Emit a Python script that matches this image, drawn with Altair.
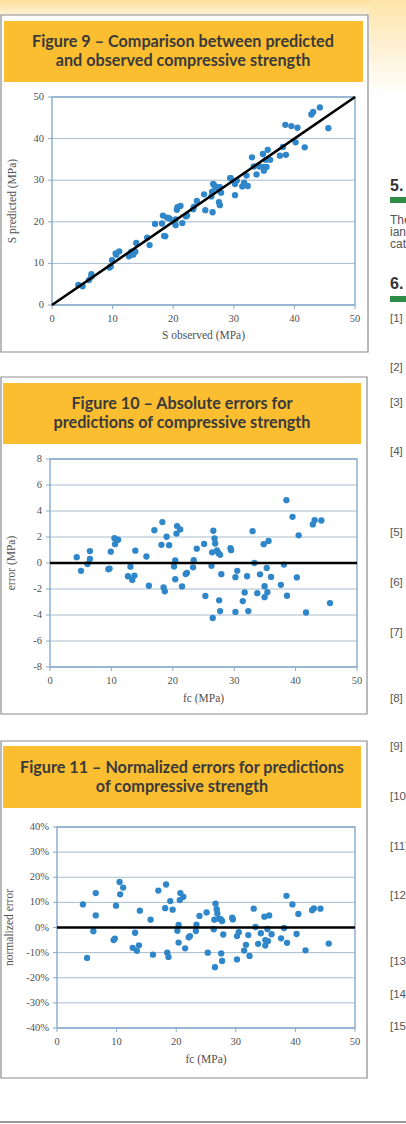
import altair as alt
import pandas as pd

# Specimen data: observed strength, model prediction, absolute and normalized error
s_observed = [4.35, 5.05, 6.1, 6.5, 6.5, 9.5, 9.7, 9.9, 10.5, 10.6,
              11.1, 12.7, 13.1, 13.4, 13.75, 13.9, 15.7, 16.1, 17.0, 18.3,
              18.15, 18.5, 18.7, 19.0, 19.4, 20.2, 20.4, 20.4, 20.6, 20.7,
              21.2, 21.5, 22.1, 22.3, 23.3, 23.4, 23.9, 25.1, 25.3, 26.4,
              26.3, 26.5, 26.6, 26.8, 26.9, 27.2, 27.45, 27.55, 27.7, 27.9,
              27.7, 29.4, 29.5, 30.2, 30.2, 30.5, 31.4, 31.7, 32.1, 32.3,
              33.0, 33.3, 33.75, 34.2, 34.8, 34.95, 34.95, 35.3, 35.4, 35.6,
              36.0, 37.6, 38.1, 38.5, 38.6, 39.5, 40.2, 40.5, 41.7, 42.8,
              43.1, 44.2, 45.6]
s_predicted = [4.8, 4.5, 6.0, 7.4, 6.8, 9.0, 9.3, 10.8, 12.4, 12.1,
               12.9, 11.7, 12.8, 12.1, 12.8, 14.9, 16.2, 14.4, 19.5, 21.5,
               19.6, 16.6, 16.5, 21.0, 20.8, 19.9, 20.6, 19.2, 22.9, 23.5,
               23.8, 19.7, 21.3, 21.5, 23.0, 23.6, 25.0, 26.6, 22.8, 27.2,
               26.1, 22.3, 29.1, 28.7, 28.4, 28.2, 28.2, 24.7, 24.0, 27.0,
               28.3, 30.5, 30.5, 29.1, 26.4, 29.9, 28.5, 29.4, 31.1, 28.6,
               35.5, 33.3, 31.4, 33.3, 36.3, 33.2, 32.3, 34.9, 33.2, 37.3,
               34.9, 35.9, 38.0, 43.3, 36.1, 43.0, 39.1, 42.6, 37.9, 45.8,
               46.4, 47.5, 42.5]
abs_error = [0.45, -0.60, -0.08, 0.92, 0.31, -0.48, -0.43, 0.87, 1.91, 1.45,
             1.79, -1.02, -0.28, -1.30, -0.97, 0.95, 0.50, -1.75, 2.52, 3.15,
             1.40, -1.88, -2.18, 2.02, 1.37, -0.27, 0.20, -1.25, 2.26, 2.84,
             2.58, -1.80, -0.85, -0.76, -0.33, 0.22, 1.10, 1.47, -2.54, 0.82,
             -0.22, -4.23, 2.48, 1.89, 1.50, 0.96, 0.75, -2.87, -3.70, -0.86,
             0.63, 1.14, 0.99, -1.09, -3.76, -0.60, -2.93, -2.26, -1.02, -3.70,
             2.45, 0.0, -2.32, -0.87, 1.45, -1.79, -2.63, -0.38, -2.25, 1.69,
             -1.07, -1.68, -0.12, 4.83, -2.52, 3.55, -1.11, 2.13, -3.81, 2.97,
             3.29, 3.27, -3.08]
norm_error_pct = [9.2, -12.1, -1.5, 13.7, 4.8, -5.0, -4.4, 8.7, 18.1, 13.2,
                  15.9, -8.1, -2.1, -9.3, -7.1, 6.7, 3.1, -10.8, 14.7, 17.1,
                  7.7, -10.0, -11.7, 10.5, 7.1, -1.3, 1.0, -6.0, 10.9, 13.7,
                  12.2, -8.3, -3.9, -3.4, -1.4, 1.1, 4.6, 6.0, -10.0, 3.1,
                  -0.7, -15.8, 9.5, 7.3, 5.6, 3.5, 3.3, -10.3, -13.3, -2.8,
                  2.6, 3.9, 3.2, -3.4, -12.7, -1.9, -9.2, -6.9, -3.0, -11.3,
                  7.5, 0.2, -6.5, -2.3, 4.3, -5.0, -7.2, -0.6, -5.4, 4.8,
                  -2.7, -4.3, -0.2, 12.6, -6.1, 9.2, -2.6, 5.4, -9.1, 6.9,
                  7.6, 7.5, -6.4]

# tick values of each panel
x_ticks = [0, 10, 20, 30, 40, 50]
y_ticks_fig9 = [0, 10, 20, 30, 40, 50]
y_ticks_fig10 = [-8, -6, -4, -2, 0, 2, 4, 6, 8]
y_ticks_fig11 = [-40, -30, -20, -10, 0, 10, 20, 30, 40]

fig_titles = [
    ["Figure 9 \u2013 Comparison between predicted", "and observed compressive strength"],
    ["Figure 10 \u2013 Absolute errors for", "predictions of compressive strength"],
    ["Figure 11 \u2013 Normalized errors for predictions", "of compressive strength"],
]
x_titles = ["S observed (MPa)", "fc (MPa)", "fc (MPa)"]
y_titles = ["S predicted (MPa)", "error (MPa)", "normalized error"]

side_headings = ["5.", "6."]
side_lines = ["The", "ian", "cat"]
side_refs = ["[1]", "[2]", "[3]", "[4]", "[5]", "[6]", "[7]", "[8]",
             "[9]", "[10]", "[11]", "[12]", "[13]", "[14]", "[15]"]

df = pd.DataFrame({
    "observed": s_observed,
    "predicted": s_predicted,
    "error": abs_error,
    "norm": norm_error_pct,
})

W, H = 406, 1124
SERIF = "Liberation Serif"
SANS = "Liberation Sans"
DOT = "#2f87c9"
FRAME = "#86abcc"
GRID = "#a7bccb"
AXIS_TXT = "#505050"
YELLOW = "#fbbe31"
BOX_LINE = "#8c8c8c"
GREEN = "#2f8c46"

one = alt.Data(values=[{"k": 0}])


def rect(x, x2, y, y2, **mark):
    return alt.Chart(one).mark_rect(**mark).encode(
        x=alt.value(x), x2=alt.value(x2), y=alt.value(y), y2=alt.value(y2))


def text(t, x, y, **mark):
    return alt.Chart(one).mark_text(text=t, **mark).encode(
        x=alt.value(x), y=alt.value(y))


def panel(ycol, yticks, suffix, xr, yr, xtitle, ytitle, ytitle_x, xtitle_y,
          diagonal):
    xs = alt.Scale(domain=[0, 50], range=list(xr), nice=False, zero=False)
    ys = alt.Scale(domain=[yticks[0], yticks[-1]], range=list(yr),
                   nice=False, zero=False)

    ydf = pd.DataFrame({"v": yticks, "lab": [f"{v}{suffix}" for v in yticks]})
    xdf = pd.DataFrame({"v": x_ticks, "lab": [str(v) for v in x_ticks]})

    grid = alt.Chart(ydf).mark_rule(color=GRID, strokeWidth=1).encode(
        y=alt.Y("v:Q", scale=ys, axis=None),
        x=alt.value(xr[0]), x2=alt.value(xr[1]))
    yt = alt.Chart(ydf).mark_rule(color=FRAME, strokeWidth=1).encode(
        y=alt.Y("v:Q", scale=ys, axis=None),
        x=alt.value(xr[0] - 4), x2=alt.value(xr[0]))
    yl = alt.Chart(ydf).mark_text(
        font=SERIF, fontSize=10.5, color=AXIS_TXT, align="right",
        baseline="middle").encode(
        y=alt.Y("v:Q", scale=ys, axis=None), x=alt.value(xr[0] - 8),
        text="lab:N")
    xt = alt.Chart(xdf).mark_rule(color=FRAME, strokeWidth=1).encode(
        x=alt.X("v:Q", scale=xs, axis=None),
        y=alt.value(yr[0]), y2=alt.value(yr[0] + 4))
    xl = alt.Chart(xdf).mark_text(
        font=SERIF, fontSize=10.5, color=AXIS_TXT, align="center",
        baseline="middle").encode(
        x=alt.X("v:Q", scale=xs, axis=None), y=alt.value(yr[0] + 14),
        text="lab:N")

    pts = alt.Chart(df).mark_circle(size=40, color=DOT, opacity=1).encode(
        x=alt.X("observed:Q", scale=xs, axis=None),
        y=alt.Y(f"{ycol}:Q", scale=ys, axis=None),
    )
    if diagonal:
        ref = alt.Chart(one).mark_rule(color="black", strokeWidth=2.6).encode(
            x=alt.X(datum=0, scale=xs, axis=None), x2=alt.X2(datum=50),
            y=alt.Y(datum=0, scale=ys, axis=None), y2=alt.Y2(datum=50))
    else:
        ref = alt.Chart(one).mark_rule(color="black", strokeWidth=2.6).encode(
            x=alt.X(datum=0, scale=xs, axis=None), x2=alt.X2(datum=50),
            y=alt.Y(datum=0, scale=ys, axis=None))
    frame = rect(xr[0], xr[1], yr[1], yr[0], filled=False,
                 stroke=FRAME, strokeWidth=1.4)
    xtl = text(xtitle, (xr[0] + xr[1]) / 2, xtitle_y, font=SERIF, fontSize=11.5,
               color=AXIS_TXT, align="center", baseline="middle")
    ytl = text(ytitle, ytitle_x, (yr[0] + yr[1]) / 2, font=SERIF, fontSize=11.5,
               color=AXIS_TXT, align="center", baseline="middle", angle=270)
    return [alt.layer(grid, frame, yt, yl, xt, xl, pts, ref), xtl, ytl]


layers = []

# page background tint along the top edge
top_grad = alt.Gradient(
    gradient="linear", x1=0, x2=0, y1=0, y2=1,
    stops=[alt.GradientStop(offset=0, color="#fddf9c"),
           alt.GradientStop(offset=1, color="#fff3da")])
side_grad = alt.Gradient(
    gradient="linear", x1=0, x2=0, y1=0, y2=1,
    stops=[alt.GradientStop(offset=0, color="#fde4a8"),
           alt.GradientStop(offset=1, color="#ffffff")])
layers.append(rect(0, W, 0, 16, color=top_grad))
layers.append(rect(369, W, 0, 95, color=side_grad))

# figure frames and yellow caption boxes
frames = [(1, 368, 15, 352), (1, 367, 377, 714), (1, 367, 741, 1078)]
caps = [(4, 363, 21, 82), (3, 361, 383, 444), (3, 361, 746, 808)]
cap_lines = [(183, 42, 61), (182, 404, 423), (182, 768, 787)]
for (fx, fx2, fy, fy2), (cx, cx2, cy, cy2), (tx, ty1, ty2), lines in zip(
        frames, caps, cap_lines, fig_titles):
    layers.append(rect(fx, fx2, fy, fy2, fill="white", stroke=BOX_LINE,
                       strokeWidth=1.2))
    layers.append(rect(cx, cx2, cy, cy2, color=YELLOW))
    for line, ty in zip(lines, (ty1, ty2)):
        layers.append(text(line, tx, ty, font="Lato", fontSize=16.2,
                           fontWeight="bold", color="#3a3a3a", align="center",
                           baseline="middle"))

# the three scatter panels
layers += panel("predicted", y_ticks_fig9, "", (52, 355), (305, 97),
                x_titles[0], y_titles[0], 13, 336, True)
layers += panel("error", y_ticks_fig10, "", (50, 357), (667, 459),
                x_titles[1], y_titles[1], 12, 699, False)
layers += panel("norm", y_ticks_fig11, "%", (57, 355), (1028, 827),
                x_titles[2], y_titles[2], 10, 1060, False)

# neighbouring text column
for head, hy, by in zip(side_headings, (186, 284), (197, 296)):
    layers.append(text(head, 390, hy, font=SANS, fontSize=16, fontWeight="bold",
                       color="#333333", align="left", baseline="middle"))
    layers.append(rect(390, W, by, by + 6, color=GREEN))
for line, ly in zip(side_lines, (220, 232, 244)):
    layers.append(text(line, 390, ly, font=SANS, fontSize=12, color="#555555",
                       align="left", baseline="middle"))
ref_y = [319, 368, 403, 452, 533, 583, 633, 699, 747, 797, 847, 896, 962, 995, 1027]
for ref, ry in zip(side_refs, ref_y):
    layers.append(text(ref, 390, ry, font=SANS, fontSize=11.5, color="#555555",
                       align="left", baseline="middle"))

# page rule at the foot
layers.append(rect(0, W, 1121, 1123, color="#9a9a9a"))

chart = alt.layer(*layers).resolve_scale(
    x="independent", y="independent"
).properties(
    width=W, height=H, autosize="none", padding=0, background="white"
).configure_view(stroke=None)

chart.save("out.html", embed_options={"renderer": "svg", "actions": False})
